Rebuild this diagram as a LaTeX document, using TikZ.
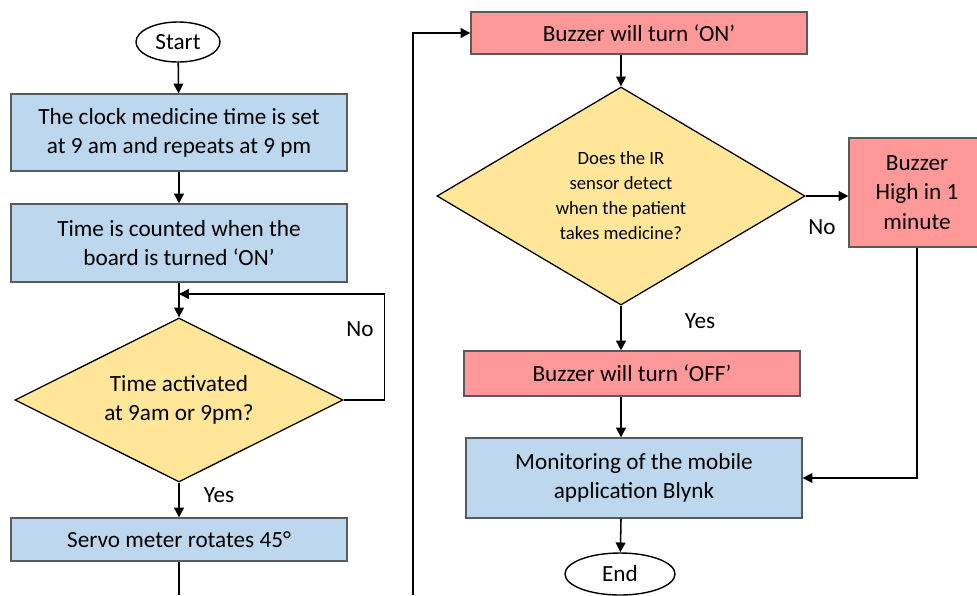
\documentclass[tikz,border=0pt]{standalone}
\usepackage{fontspec}
\setmainfont{Carlito}
\usetikzlibrary{arrows.meta,positioning,shapes.geometric}
\definecolor{boxblue}{RGB}{189,215,238}
\definecolor{boxred}{RGB}{255,153,153}
\definecolor{boxyellow}{RGB}{255,230,153}
\definecolor{edgegray}{RGB}{90,90,90}

\begin{document}
\begin{tikzpicture}[x=0.025cm,y=-0.025cm,
  every node/.style={font=\fontsize{16.5}{20.8}\selectfont},
  bluebox/.style={draw=edgegray,fill=boxblue,line width=0.8pt,minimum width=8.4cm,align=center},
  redbox/.style={draw=edgegray,fill=boxred,line width=0.8pt,align=center},
  decision/.style={diamond,draw=black,fill=boxyellow,line width=0.9pt,align=center,inner sep=0pt},
  terminal/.style={ellipse,draw=black,fill=white,line width=1pt},
  wire/.style={line width=1.1pt},
  flow/.style={wire,-{Triangle[length=7pt,width=7pt]}}]
\useasboundingbox (0,0) rectangle (977,595);
% left column
\node[terminal,minimum width=2.1cm,minimum height=1cm] (start) at (178,42) {Start};
\node[bluebox,minimum height=1.925cm] (clockset) at (179,132.5) {The clock medicine time is set\\at 9 am and repeats at 9 pm};
\node[bluebox,minimum height=1.95cm] (counted) at (179,243) {Time is counted when the\\board is turned ‘ON’};
\node[decision,minimum width=8.2cm,minimum height=4.1cm,aspect=2] (activated) at (179,400) {Time activated\\at 9am or 9pm?};
\node[bluebox,minimum height=1.075cm] (servo) at (179,539.5) {Servo meter rotates 45°};
\coordinate (loopin) at (179,294);
\coordinate (cutleft) at (179,595);
\coordinate (cutright) at (413,595);
\draw[flow] (start) -- (clockset);
\draw[flow] (clockset) -- (counted);
\draw[flow] (counted) -- (activated);
\draw[flow] (activated.east) -- ++(41,0) |- (loopin);
\node (loopno) at (360,329) {No};
\draw[flow] (activated) -- (servo);
\node (activyes) at (219,495) {Yes};
\draw[wire] (servo) -- (cutleft);
% right column
\node[redbox,minimum width=8.4cm,minimum height=1.05cm] (buzzon) at (639,33) {Buzzer will turn ‘ON’};
\node[decision,minimum width=9.2cm,minimum height=5.45cm,aspect=1.7,font=\fontsize{13.3}{17.8}\selectfont] (irsense) at (621,196) {Does the IR\\sensor detect\\when the patient\\takes medicine?};
\node[redbox,minimum width=3.4cm,minimum height=2.725cm] (buzzhigh) at (917,192.5) {Buzzer\\High in 1\\minute};
\node[redbox,minimum width=8.4cm,minimum height=1.125cm] (buzzoff) at (632,373.5) {Buzzer will turn ‘OFF’};
\node[bluebox,minimum height=2cm] (monitor) at (634,478) {Monitoring of the mobile\\application Blynk};
\node[terminal,minimum width=2.75cm,minimum height=1.05cm] (finish) at (620,574) {End};
\draw[flow] (cutright) |- (buzzon.west);
\draw[flow] (irsense.north |- buzzon.south) -- (irsense.north);
\draw[flow] (irsense.east) -- (irsense.east -| buzzhigh.west);
\node (highno) at (822,227) {No};
\draw[flow] (irsense.south) -- (irsense.south |- buzzoff.north);
\node (senseyes) at (700,321) {Yes};
\draw[flow] (irsense.south |- buzzoff.south) -- (irsense.south |- monitor.north);
\draw[flow] (buzzhigh.south) |- (monitor.east);
\draw[flow] (irsense.south |- monitor.south) -- (finish);
\end{tikzpicture}
\end{document}
